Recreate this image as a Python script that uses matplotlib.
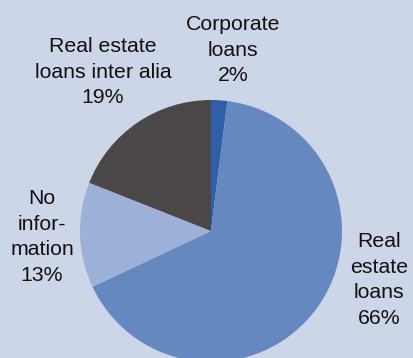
import matplotlib.pyplot as plt

# loan categories, clockwise from 12 o'clock
names = ["Corporate\nloans", "Real\nestate\nloans", "No\ninfor-\nmation", "Real estate\nloans inter alia"]
shares = [2, 66, 13, 19]
colors = ["#2f5fa9", "#6688c0", "#9cb0d8", "#4b4647"]

# label anchor points (pixels, top-left origin)
label_xy = [(233, 50), (379, 280), (42, 237), (103, 72)]

W, H = 413, 358
bg = "#ccd6e8"

fig = plt.figure(figsize=(W / 100, H / 100), dpi=100, facecolor=bg)
ax = fig.add_axes([0, 0, 1, 1])
ax.set_facecolor(bg)

ax.pie(shares, colors=colors, startangle=90, counterclock=False,
       center=(211, H - 231), radius=131, frame=True,
       wedgeprops=dict(linewidth=0))
ax.set_xlim(0, W)
ax.set_ylim(0, H)
ax.set_aspect("equal")
ax.axis("off")

for name, v, (x, y) in zip(names, shares, label_xy):
    ax.text(x, H - y, f"{name}\n{v}%", ha="center", va="center",
            fontsize=15.3, family="Liberation Sans", linespacing=1.44,
            color="#111111")

fig.savefig("out.png", dpi=100, facecolor=bg)
